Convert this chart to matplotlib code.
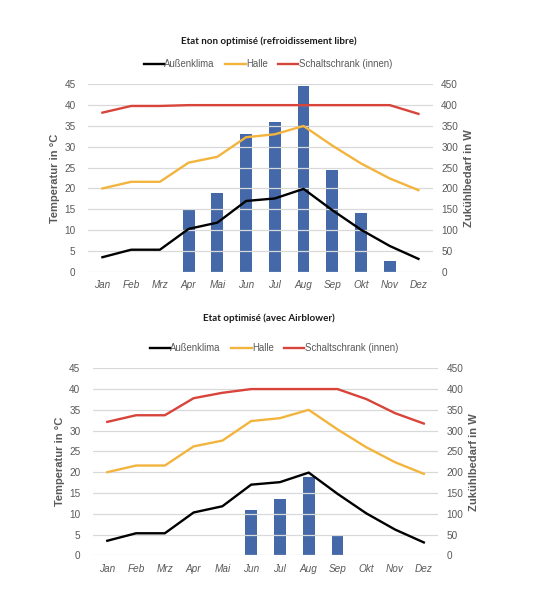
import matplotlib
matplotlib.use("Agg")
import matplotlib.pyplot as plt
import numpy as np

months = ["Jan", "Feb", "Mrz", "Apr", "Mai", "Jun", "Jul", "Aug", "Sep", "Okt", "Nov", "Dez"]
aussen = [3.5, 5.3, 5.3, 10.3, 11.8, 17.0, 17.6, 19.9, 14.8, 10.1, 6.2, 3.1]
halle = [20.0, 21.6, 21.6, 26.2, 27.6, 32.3, 33.0, 35.0, 30.3, 26.0, 22.4, 19.6]
schrank_1 = [38.2, 39.8, 39.8, 40.0, 40.0, 40.0, 40.0, 40.0, 40.0, 40.0, 40.0, 37.9]
schrank_2 = [32.1, 33.7, 33.7, 37.8, 39.1, 40.0, 40.0, 40.0, 40.0, 37.6, 34.2, 31.7]
bedarf_1 = [0, 0, 0, 150, 190, 330, 360, 445, 245, 140, 26, 0]
bedarf_2 = [0, 0, 0, 0, 0, 109, 135, 189, 50, 0, 0, 0]
title_1 = "Etat non optimisé (refroidissement libre)"
title_2 = "Etat optimisé (avec Airblower)"
series_names = ["Außenklima", "Halle", "Schaltschrank (innen)"]

C_BLACK = "#000000"
C_ORANGE = "#F3B43E"
C_RED = "#D8443A"
C_BAR = "#4468A8"
C_TXT = "#595959"
FONT = "Liberation Sans"

fig = plt.figure(figsize=(5.37, 6.0), dpi=100)

def panel(rect, title, schrank, bedarf, title_y, legend_y, legend_x):
    ax = fig.add_axes(rect)
    ax2 = ax.twinx()
    x = np.arange(len(months))
    ax2.bar(x, bedarf, width=0.41, color=C_BAR, zorder=1)
    ax2.set_ylim(0, 450)
    ax.set_ylim(0, 45)
    ax.set_xlim(-0.5, 11.5)
    ax.set_zorder(ax2.get_zorder() + 1)
    ax.patch.set_visible(False)
    for yv in range(0, 46, 5):
        ax.axhline(yv, color="#D9D9D9", lw=0.9, zorder=0)
    ax2.set_zorder(0)
    h1, = ax.plot(x, aussen, color=C_BLACK, lw=1.7, zorder=3)
    h2, = ax.plot(x, halle, color=C_ORANGE, lw=1.7, zorder=3)
    h3, = ax.plot(x, schrank, color=C_RED, lw=1.7, zorder=3)
    for a in (ax, ax2):
        for s in a.spines.values():
            s.set_visible(False)
        a.tick_params(length=0, colors=C_TXT, labelsize=7.2)
    ax.set_yticks(range(0, 46, 5))
    ax2.set_yticks(range(0, 451, 50))
    ax.tick_params(axis="y", pad=9)
    ax2.tick_params(axis="y", pad=6)
    ax.set_xticks(x)
    ax.set_xticklabels(months, fontstyle="italic")
    ax.tick_params(axis="x", pad=6)
    for lab in ax.get_yticklabels() + ax2.get_yticklabels() + ax.get_xticklabels():
        lab.set_fontfamily(FONT)
    ax.set_ylabel("Temperatur in °C", fontsize=8, fontweight="bold", color=C_TXT,
                  fontfamily=FONT, labelpad=3)
    ax2.set_ylabel("Zukühlbedarf in W", fontsize=8, fontweight="bold", color=C_TXT,
                   fontfamily=FONT, labelpad=4)
    fig.text(0.5, title_y, title, ha="center", va="center", fontsize=7.0,
             fontweight="bold", fontfamily="Lato", color="#1a1a1a")
    leg = fig.legend([h1, h2, h3], series_names, loc="center",
                     bbox_to_anchor=(legend_x, legend_y), ncol=3, frameon=False,
                     prop={"family": FONT, "size": 6.9}, handlelength=2.1,
                     handletextpad=0.05, columnspacing=1.1)
    for t in leg.get_texts():
        t.set_color(C_TXT)
    return ax

panel([0.164, 0.547, 0.642, 0.3125], title_1, schrank_1, bedarf_1,
      1 - 41 / 600, 1 - 64 / 600, 268 / 537)
panel([0.173, 0.0745, 0.643, 0.3117], title_2, schrank_2, bedarf_2,
      1 - 318 / 600, 1 - 348 / 600, 274 / 537)

fig.savefig("out.png", dpi=100, facecolor="white")
